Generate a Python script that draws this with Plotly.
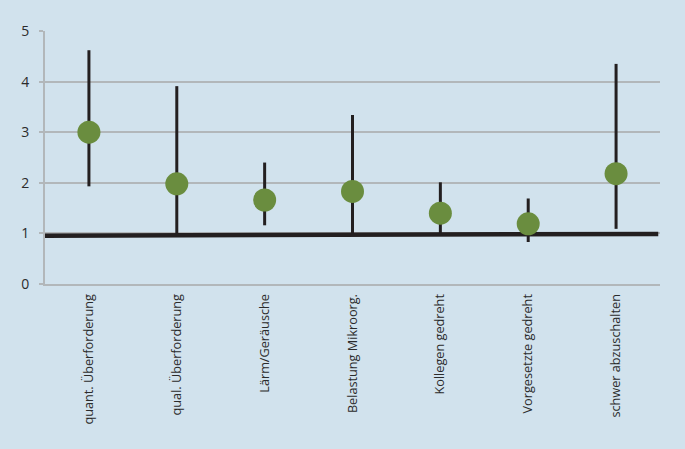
import plotly.graph_objects as go

categories = ["quant. Überforderung", "qual. Überforderung", "Lärm/Geräusche",
              "Belastung Mikroorg.", "Kollegen gedreht", "Vorgesetzte gedreht",
              "schwer abzuschalten"]
point_values = [3.0, 1.98, 1.66, 1.83, 1.40, 1.19, 2.18]
upper_values = [4.62, 3.91, 2.40, 3.34, 2.01, 1.69, 4.35]
lower_values = [1.93, 0.99, 1.16, 0.99, 0.99, 0.83, 1.09]
baseline_x = [-0.53, 6.48]
baseline_y = [0.955, 0.99]
y_ticks = [0, 1, 2, 3, 4, 5]

xs = list(range(len(categories)))
bg = "#d1e2ed"
grid = "#b2b7ba"

fig = go.Figure()
fig.add_trace(go.Scatter(
    x=baseline_x, y=baseline_y, mode="lines",
    line=dict(color="#231f20", width=4.5), hoverinfo="skip", showlegend=False))
fig.add_trace(go.Scatter(
    x=xs, y=point_values, mode="markers",
    marker=dict(size=23, color="#6a8d3f"),
    error_y=dict(type="data", symmetric=False,
                 array=[u - p for u, p in zip(upper_values, point_values)],
                 arrayminus=[p - l for p, l in zip(point_values, lower_values)],
                 color="#231f20", thickness=3, width=0),
    showlegend=False))

fig.update_layout(
    width=685, height=449,
    margin=dict(l=45, r=25, t=31, b=165),
    paper_bgcolor=bg, plot_bgcolor=bg,
    font=dict(family="Open Sans", color="#333333"),
    xaxis=dict(range=[-0.5, 6.5], tickmode="array", tickvals=xs, ticktext=categories,
               tickangle=-90, showgrid=False, zeroline=False,
               showline=True, linecolor=grid, linewidth=2,
               ticks="", ticklabelstandoff=3, tickfont=dict(size=12.7, color="#2b2b2b")),
    yaxis=dict(range=[0, 5], tickvals=y_ticks, showgrid=True, gridcolor=grid, gridwidth=1.5,
               zeroline=False, showline=True, linecolor=grid, linewidth=2,
               ticks="outside", ticklen=4, tickcolor=grid, tickwidth=1.5,
               ticklabelstandoff=7, tickfont=dict(size=14, color="#2b2b2b")),
)
fig.write_html("out.html", config={"displayModeBar": False},
               post_script="document.body.style.margin='0';document.body.style.background='%s';" % bg)
